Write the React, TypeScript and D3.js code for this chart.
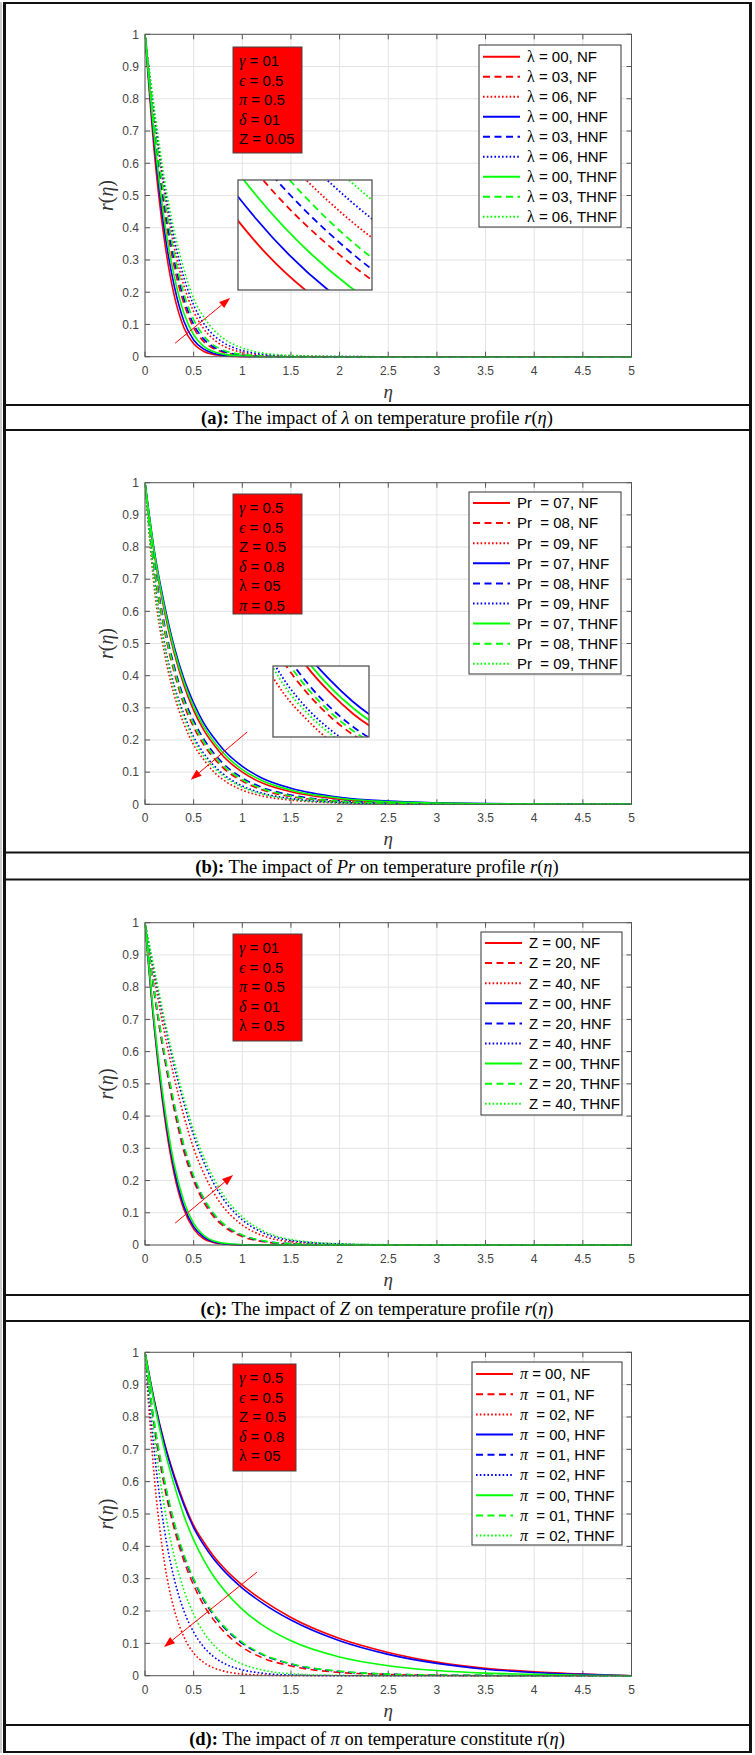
import React from 'react';
import * as d3 from 'd3';

// ---------- shared axes data ----------
const ETA = [0, 0.1, 0.2, 0.3, 0.4, 0.5, 0.6, 0.7, 0.8, 1.0, 1.2, 1.5, 2, 2.5, 3, 3.5, 4, 4.5, 5];
const X_TICKS = [0, 0.5, 1, 1.5, 2, 2.5, 3, 3.5, 4, 4.5, 5];
const Y_TICKS = [0, 0.1, 0.2, 0.3, 0.4, 0.5, 0.6, 0.7, 0.8, 0.9, 1];
const FLUIDS = ['NF', 'HNF', 'THNF'];
const FLUID_COLORS = ['#ff0000', '#0000ff', '#00ff00'];

// ---------- panel (a): lambda ----------
const A_VALUES = ['00', '03', '06'];
const a_nf_0 = [1, 0.62, 0.36, 0.19, 0.09, 0.04, 0.017, 0.007, 0.003, 0, 0, 0, 0, 0, 0, 0, 0, 0, 0];
const a_nf_3 = [1, 0.69, 0.45, 0.28, 0.165, 0.09, 0.048, 0.026, 0.014, 0.004, 0.001, 0, 0, 0, 0, 0, 0, 0, 0];
const a_nf_6 = [1, 0.73, 0.51, 0.34, 0.22, 0.14, 0.088, 0.055, 0.034, 0.013, 0.005, 0.0015, 0, 0, 0, 0, 0, 0, 0];
const a_hnf_0 = [1, 0.65, 0.39, 0.22, 0.11, 0.052, 0.024, 0.011, 0.005, 0.001, 0, 0, 0, 0, 0, 0, 0, 0, 0];
const a_hnf_3 = [1, 0.7, 0.47, 0.3, 0.18, 0.1, 0.056, 0.031, 0.017, 0.005, 0.0015, 0, 0, 0, 0, 0, 0, 0, 0];
const a_hnf_6 = [1, 0.745, 0.53, 0.365, 0.245, 0.16, 0.105, 0.068, 0.045, 0.019, 0.008, 0.0025, 0.0003, 0, 0, 0, 0, 0, 0];
const a_thnf_0 = [1, 0.67, 0.42, 0.25, 0.135, 0.068, 0.033, 0.016, 0.008, 0.002, 0, 0, 0, 0, 0, 0, 0, 0, 0];
const a_thnf_3 = [1, 0.71, 0.49, 0.32, 0.195, 0.115, 0.066, 0.037, 0.021, 0.007, 0.002, 0, 0, 0, 0, 0, 0, 0, 0];
const a_thnf_6 = [1, 0.76, 0.55, 0.39, 0.27, 0.18, 0.125, 0.085, 0.058, 0.027, 0.012, 0.004, 0.001, 0, 0, 0, 0, 0, 0];
const A_BOX = ['γ = 01', 'ϵ = 0.5', 'π = 0.5', 'δ = 01', 'Z = 0.05'];

// ---------- panel (b): Pr ----------
const B_VALUES = ['07', '08', '09'];
const b_nf_7 = [1, 0.77, 0.6, 0.47, 0.37, 0.292, 0.233, 0.188, 0.151, 0.1, 0.067, 0.039, 0.016, 0.007, 0.003, 0.001, 0, 0, 0];
const b_nf_8 = [1, 0.72, 0.54, 0.41, 0.31, 0.24, 0.187, 0.146, 0.114, 0.072, 0.045, 0.024, 0.009, 0.003, 0.001, 0, 0, 0, 0];
const b_nf_9 = [1, 0.66, 0.47, 0.34, 0.25, 0.185, 0.14, 0.103, 0.077, 0.044, 0.026, 0.013, 0.004, 0.001, 0, 0, 0, 0, 0];
const b_hnf_7 = [1, 0.78, 0.62, 0.49, 0.39, 0.315, 0.255, 0.21, 0.172, 0.118, 0.082, 0.05, 0.022, 0.01, 0.005, 0.002, 0.001, 0, 0];
const b_hnf_8 = [1, 0.74, 0.56, 0.43, 0.33, 0.26, 0.205, 0.162, 0.128, 0.082, 0.053, 0.029, 0.011, 0.004, 0.0015, 0.0005, 0, 0, 0];
const b_hnf_9 = [1, 0.69, 0.5, 0.37, 0.28, 0.21, 0.16, 0.123, 0.095, 0.057, 0.035, 0.018, 0.006, 0.002, 0, 0, 0, 0, 0];
const b_thnf_7 = [1, 0.775, 0.61, 0.48, 0.38, 0.303, 0.244, 0.198, 0.161, 0.108, 0.074, 0.044, 0.019, 0.008, 0.004, 0.0015, 0.0005, 0, 0];
const b_thnf_8 = [1, 0.73, 0.55, 0.42, 0.32, 0.25, 0.196, 0.154, 0.121, 0.077, 0.049, 0.026, 0.01, 0.0035, 0.001, 0, 0, 0, 0];
const b_thnf_9 = [1, 0.68, 0.49, 0.36, 0.27, 0.2, 0.152, 0.116, 0.089, 0.053, 0.032, 0.016, 0.005, 0.0015, 0, 0, 0, 0, 0];
const B_BOX = ['γ = 0.5', 'ϵ = 0.5', 'Z = 0.5', 'δ = 0.8', 'λ = 05', 'π = 0.5'];

// ---------- panel (c): Z ----------
const C_VALUES = ['00', '20', '40'];
const c_nf_0 = [1, 0.66, 0.4, 0.22, 0.11, 0.05, 0.02, 0.008, 0.003, 0, 0, 0, 0, 0, 0, 0, 0, 0, 0];
const c_nf_20 = [1, 0.77, 0.58, 0.42, 0.29, 0.2, 0.135, 0.09, 0.06, 0.026, 0.011, 0.003, 0, 0, 0, 0, 0, 0, 0];
const c_nf_40 = [1, 0.82, 0.66, 0.52, 0.4, 0.3, 0.225, 0.165, 0.12, 0.062, 0.03, 0.01, 0.002, 0, 0, 0, 0, 0, 0];
const c_hnf_0 = [1, 0.67, 0.415, 0.235, 0.12, 0.057, 0.025, 0.01, 0.004, 0.0005, 0, 0, 0, 0, 0, 0, 0, 0, 0];
const c_hnf_20 = [1, 0.78, 0.59, 0.435, 0.305, 0.21, 0.145, 0.098, 0.066, 0.03, 0.013, 0.004, 0.0005, 0, 0, 0, 0, 0, 0];
const c_hnf_40 = [1, 0.84, 0.69, 0.555, 0.44, 0.34, 0.26, 0.195, 0.145, 0.078, 0.04, 0.014, 0.003, 0.0005, 0, 0, 0, 0, 0];
const c_thnf_0 = [1, 0.68, 0.43, 0.25, 0.135, 0.067, 0.031, 0.013, 0.006, 0.001, 0, 0, 0, 0, 0, 0, 0, 0, 0];
const c_thnf_20 = [1, 0.78, 0.595, 0.44, 0.31, 0.215, 0.148, 0.1, 0.068, 0.031, 0.014, 0.004, 0.0005, 0, 0, 0, 0, 0, 0];
const c_thnf_40 = [1, 0.85, 0.7, 0.57, 0.455, 0.355, 0.275, 0.21, 0.158, 0.087, 0.046, 0.017, 0.004, 0.001, 0, 0, 0, 0, 0];
const C_BOX = ['γ = 01', 'ϵ = 0.5', 'π = 0.5', 'δ = 01', 'λ = 0.5'];

// ---------- panel (d): pi ----------
const D_VALUES = ['00', '01', '02'];
const d_nf_0 = [1, 0.845, 0.72, 0.62, 0.535, 0.465, 0.415, 0.372, 0.337, 0.28, 0.235, 0.18, 0.115, 0.072, 0.042, 0.023, 0.012, 0.005, 0];
const d_nf_1 = [1, 0.76, 0.585, 0.455, 0.355, 0.28, 0.22, 0.175, 0.14, 0.088, 0.056, 0.03, 0.01, 0.004, 0.001, 0, 0, 0, 0];
const d_nf_2 = [1, 0.6, 0.35, 0.205, 0.12, 0.07, 0.042, 0.025, 0.015, 0.005, 0.002, 0, 0, 0, 0, 0, 0, 0, 0];
const d_hnf_0 = [1, 0.843, 0.716, 0.614, 0.528, 0.458, 0.406, 0.363, 0.328, 0.271, 0.226, 0.172, 0.108, 0.066, 0.038, 0.02, 0.01, 0.004, 0];
const d_hnf_1 = [1, 0.77, 0.6, 0.47, 0.37, 0.295, 0.235, 0.19, 0.153, 0.1, 0.066, 0.036, 0.013, 0.005, 0.002, 0.001, 0, 0, 0];
const d_hnf_2 = [1, 0.68, 0.45, 0.3, 0.2, 0.135, 0.09, 0.06, 0.04, 0.018, 0.008, 0.002, 0, 0, 0, 0, 0, 0, 0];
const d_thnf_0 = [1, 0.835, 0.7, 0.59, 0.495, 0.42, 0.36, 0.31, 0.27, 0.205, 0.158, 0.108, 0.058, 0.031, 0.016, 0.008, 0.004, 0.0015, 0];
const d_thnf_1 = [1, 0.775, 0.605, 0.475, 0.375, 0.3, 0.24, 0.194, 0.157, 0.103, 0.068, 0.037, 0.014, 0.005, 0.002, 0.001, 0, 0, 0];
const d_thnf_2 = [1, 0.73, 0.52, 0.37, 0.265, 0.19, 0.135, 0.097, 0.07, 0.036, 0.018, 0.006, 0.001, 0, 0, 0, 0, 0, 0];
const D_BOX = ['γ = 0.5', 'ϵ = 0.5', 'Z = 0.5', 'δ = 0.8', 'λ = 05'];

// ---------- layout / style ----------
const W = 755;
const H = 1755;
const PLOT_L = 145;
const PLOT_R = 631.5;
const DASHES = [undefined, '7,4.5', '1.6,2.2'];
const SANS = 'Arial, "Liberation Sans", Helvetica, sans-serif';
const SERIF = '"Times New Roman", "Liberation Serif", "DejaVu Serif", serif';

type Part = { t: string; b?: boolean; i?: boolean };

const PANELS = [
  {
    id: 'a',
    plotTop: 34.3, plotBottom: 356.7,
    series: [[a_nf_0, a_nf_3, a_nf_6], [a_hnf_0, a_hnf_3, a_hnf_6], [a_thnf_0, a_thnf_3, a_thnf_6]],
    values: A_VALUES, sym: 'λ', symItalic: false, symSerif: true, gap: [' = ', ' = ', ' = '],
    legend: { x: 479, y: 45, w: 142, h: 182, row0: 11.7, dy: 20 },
    box: { x: 233, y: 47, w: 69, h: 106, lines: A_BOX },
    arrow: { from: [0.31, 0.042], to: [0.875, 0.182] },
    inset: { x: 238, y: 180, w: 134, h: 110, xd: [0.28, 0.425], yd: [0.13, 0.27] },
    caption: [{ t: '(a):', b: true }, { t: ' The impact of ' }, { t: 'λ', i: true }, { t: ' on temperature profile ' }, { t: 'r', i: true }, { t: '(' }, { t: 'η', i: true }, { t: ')' }] as Part[],
    capY: 417.5,
  },
  {
    id: 'b',
    plotTop: 482.7, plotBottom: 804.3,
    series: [[b_nf_7, b_nf_8, b_nf_9], [b_hnf_7, b_hnf_8, b_hnf_9], [b_thnf_7, b_thnf_8, b_thnf_9]],
    values: B_VALUES, sym: 'Pr', symItalic: false, symSerif: false, gap: ['  = ', '  = ', '  = '],
    legend: { x: 469, y: 492, w: 152, h: 182, row0: 11, dy: 20.1 },
    box: { x: 233, y: 494, w: 69, h: 120, lines: B_BOX },
    arrow: { from: [1.05, 0.225], to: [0.47, 0.076] },
    inset: { x: 273, y: 666, w: 96, h: 71, xd: [0.45, 0.87], yd: [0.11, 0.235] },
    caption: [{ t: '(b):', b: true }, { t: ' The impact of ' }, { t: 'Pr', i: true }, { t: ' on temperature profile ' }, { t: 'r', i: true }, { t: '(' }, { t: 'η', i: true }, { t: ')' }] as Part[],
    capY: 866.5,
  },
  {
    id: 'c',
    plotTop: 922.7, plotBottom: 1245,
    series: [[c_nf_0, c_nf_20, c_nf_40], [c_hnf_0, c_hnf_20, c_hnf_40], [c_thnf_0, c_thnf_20, c_thnf_40]],
    values: C_VALUES, sym: 'Z', symItalic: false, symSerif: false, gap: [' = ', ' = ', ' = '],
    legend: { x: 481, y: 932, w: 141, h: 183, row0: 11, dy: 20.1 },
    box: { x: 233, y: 934, w: 69, h: 107, lines: C_BOX },
    arrow: { from: [0.31, 0.068], to: [0.905, 0.217] },
    inset: null,
    caption: [{ t: '(c):', b: true }, { t: ' The impact of ' }, { t: 'Z', i: true }, { t: ' on temperature profile ' }, { t: 'r', i: true }, { t: '(' }, { t: 'η', i: true }, { t: ')' }] as Part[],
    capY: 1308.5,
  },
  {
    id: 'd',
    plotTop: 1352.3, plotBottom: 1675.7,
    series: [[d_nf_0, d_nf_1, d_nf_2], [d_hnf_0, d_hnf_1, d_hnf_2], [d_thnf_0, d_thnf_1, d_thnf_2]],
    values: D_VALUES, sym: 'π', symItalic: true, symSerif: true, gap: [' = ', '  = ', '  = '],
    legend: { x: 472, y: 1362, w: 150, h: 183, row0: 12, dy: 20.2 },
    box: { x: 233, y: 1364, w: 63, h: 107, lines: D_BOX },
    arrow: { from: [1.15, 0.32], to: [0.195, 0.089] },
    inset: null,
    caption: [{ t: '(d):', b: true }, { t: ' The impact of ' }, { t: 'π', i: true }, { t: ' on temperature constitute r(' }, { t: 'η', i: true }, { t: ')' }] as Part[],
    capY: 1738.5,
  },
];

const FRAME_H_LINES = [3, 405, 430, 852.5, 879.5, 1295, 1321, 1725, 1752];

const GREEK = /^[γϵπδλ]/;

function BoxLine({ s, x, y }: { s: string; x: number; y: number }) {
  const first = s[0];
  const rest = s.slice(1);
  const isGreek = GREEK.test(first);
  return (
    <text x={x} y={y} fontSize={15} fontFamily={SANS} fill="#000" style={{ whiteSpace: 'pre' }}>
      {isGreek ? (
        <tspan fontFamily={SERIF} fontStyle={first === 'λ' ? 'normal' : 'italic'} fontSize={16}>{first}</tspan>
      ) : (
        <tspan>{first}</tspan>
      )}
      <tspan>{rest}</tspan>
    </text>
  );
}

function Panel({ p }: { p: (typeof PANELS)[number] }) {
  const x = d3.scaleLinear().domain([0, 5]).range([PLOT_L, PLOT_R]);
  const y = d3.scaleLinear().domain([0, 1]).range([p.plotBottom, p.plotTop]);
  const mkLine = (sx: d3.ScaleLinear<number, number>, sy: d3.ScaleLinear<number, number>) =>
    d3
      .line<number>()
      .x((_, i) => sx(ETA[i]))
      .y((d) => sy(d))
      .curve(d3.curveMonotoneX);
  const line = mkLine(x, y);
  const tl = 5;
  const axisColor = '#555';
  const clipId = `clip-${p.id}`;
  const insetClip = `inset-${p.id}`;
  const mid = (p.plotTop + p.plotBottom) / 2;

  const curves = (ln: d3.Line<number>, lw: number) =>
    FLUIDS.map((f, fi) =>
      p.series[fi].map((s, k) => (
        <path
          key={`${f}-${k}`}
          d={ln(s) || ''}
          fill="none"
          stroke={FLUID_COLORS[fi]}
          strokeWidth={lw}
          strokeDasharray={DASHES[k]}
        />
      ))
    );

  let insetEl = null;
  if (p.inset) {
    const ins = p.inset;
    const xi = d3.scaleLinear().domain(ins.xd).range([ins.x, ins.x + ins.w]);
    const yi = d3.scaleLinear().domain(ins.yd).range([ins.y + ins.h, ins.y]);
    insetEl = (
      <g>
        <clipPath id={insetClip}>
          <rect x={ins.x} y={ins.y} width={ins.w} height={ins.h} />
        </clipPath>
        <rect x={ins.x} y={ins.y} width={ins.w} height={ins.h} fill="#fff" />
        <g clipPath={`url(#${insetClip})`}>{curves(mkLine(xi, yi), 1.8)}</g>
        <rect x={ins.x} y={ins.y} width={ins.w} height={ins.h} fill="none" stroke="#555" strokeWidth={1.3} />
      </g>
    );
  }

  const lg = p.legend;
  const ax1 = x(p.arrow.from[0]);
  const ay1 = y(p.arrow.from[1]);
  const ax2 = x(p.arrow.to[0]);
  const ay2 = y(p.arrow.to[1]);
  const ang = Math.atan2(ay2 - ay1, ax2 - ax1);
  const hl = 11;
  const hw = 4;
  const bx = ax2 - hl * Math.cos(ang);
  const by = ay2 - hl * Math.sin(ang);
  const head = `${ax2},${ay2} ${bx + hw * Math.sin(ang)},${by - hw * Math.cos(ang)} ${bx - hw * Math.sin(ang)},${by + hw * Math.cos(ang)}`;

  return (
    <g>
      <clipPath id={clipId}>
        <rect x={PLOT_L} y={p.plotTop - 2} width={PLOT_R - PLOT_L + 1} height={p.plotBottom - p.plotTop + 3} />
      </clipPath>
      {/* grid */}
      {X_TICKS.map((t) => (
        <line key={`gx${t}`} x1={x(t)} x2={x(t)} y1={p.plotTop} y2={p.plotBottom} stroke="#e3e3e3" strokeWidth={1} />
      ))}
      {Y_TICKS.map((t) => (
        <line key={`gy${t}`} x1={PLOT_L} x2={PLOT_R} y1={y(t)} y2={y(t)} stroke="#e3e3e3" strokeWidth={1} />
      ))}
      {/* ticks */}
      {X_TICKS.map((t) => (
        <g key={`tx${t}`}>
          <line x1={x(t)} x2={x(t)} y1={p.plotBottom} y2={p.plotBottom - tl} stroke={axisColor} />
          <line x1={x(t)} x2={x(t)} y1={p.plotTop} y2={p.plotTop + tl} stroke={axisColor} />
          <text x={x(t)} y={p.plotBottom + 18} textAnchor="middle" fontSize={12} fontFamily={SANS} fill="#444">
            {String(t)}
          </text>
        </g>
      ))}
      {Y_TICKS.map((t) => (
        <g key={`ty${t}`}>
          <line x1={PLOT_L} x2={PLOT_L + tl} y1={y(t)} y2={y(t)} stroke={axisColor} />
          <line x1={PLOT_R} x2={PLOT_R - tl} y1={y(t)} y2={y(t)} stroke={axisColor} />
          <text x={PLOT_L - 6} y={y(t) + 4.3} textAnchor="end" fontSize={12} fontFamily={SANS} fill="#444">
            {String(Math.round(t * 10) / 10)}
          </text>
        </g>
      ))}
      {/* curves */}
      <g clipPath={`url(#${clipId})`}>{curves(line, 1.6)}</g>
      {/* axes box */}
      <rect x={PLOT_L} y={p.plotTop} width={PLOT_R - PLOT_L} height={p.plotBottom - p.plotTop} fill="none" stroke={axisColor} strokeWidth={1} />
      {/* axis labels */}
      <text x={(PLOT_L + PLOT_R) / 2} y={p.plotBottom + 41} textAnchor="middle" fontSize={19} fontFamily={SERIF} fontStyle="italic" fill="#333">
        η
      </text>
      <text transform={`translate(113,${mid}) rotate(-90)`} textAnchor="middle" fontSize={20} fontFamily={SERIF} fill="#333">
        <tspan fontStyle="italic">r</tspan>
        <tspan>(</tspan>
        <tspan fontStyle="italic">η</tspan>
        <tspan>)</tspan>
      </text>
      {/* red parameter box */}
      <rect x={p.box.x} y={p.box.y} width={p.box.w} height={p.box.h} fill="#ff0000" stroke="#444" strokeWidth={1} />
      {p.box.lines.map((s, i) => (
        <BoxLine key={s} s={s} x={p.box.x + 6} y={p.box.y + 19 + i * 19.6} />
      ))}
      {/* inset */}
      {insetEl}
      {/* arrow */}
      <line x1={ax1} y1={ay1} x2={bx} y2={by} stroke="#ff0000" strokeWidth={1} />
      <polygon points={head} fill="#ff0000" />
      {/* legend */}
      <rect x={lg.x} y={lg.y} width={lg.w} height={lg.h} fill="#fff" stroke="#333" strokeWidth={1} />
      {FLUIDS.map((f, fi) =>
        p.values.map((v, k) => {
          const row = fi * 3 + k;
          const ry = lg.y + lg.row0 + row * lg.dy;
          return (
            <g key={`lg${row}`}>
              <line x1={lg.x + 4} x2={lg.x + 41} y1={ry} y2={ry} stroke={FLUID_COLORS[fi]} strokeWidth={2} strokeDasharray={DASHES[k]} />
              <text x={lg.x + 48} y={ry + 5.3} fontSize={15} fontFamily={SANS} fill="#000" style={{ whiteSpace: 'pre' }}>
                <tspan fontFamily={p.symSerif ? SERIF : SANS} fontStyle={p.symItalic ? 'italic' : 'normal'} fontSize={p.symSerif ? 16 : 15}>
                  {p.sym}
                </tspan>
                <tspan>{`${row === 0 ? p.gap[0] : p.gap[1]}${v}, ${f}`}</tspan>
              </text>
            </g>
          );
        })
      )}
      {/* caption */}
      <text x={377} y={p.capY + 6} textAnchor="middle" fontSize={18.5} fontFamily={SERIF} fill="#000" style={{ whiteSpace: 'pre' }}>
        {p.caption.map((c, i) => (
          <tspan key={i} fontWeight={c.b ? 'bold' : 'normal'} fontStyle={c.i ? 'italic' : 'normal'}>
            {c.t}
          </tspan>
        ))}
      </text>
    </g>
  );
}

export default function App() {
  return (
    <svg width={W} height={H} viewBox={`0 0 ${W} ${H}`} style={{ position: 'absolute', left: 0, top: 0, background: '#fff' }}>
      <rect x={0} y={0} width={W} height={H} fill="#fff" />
      {PANELS.map((p) => (
        <Panel key={p.id} p={p} />
      ))}
      {/* frame */}
      <line x1={1} x2={1} y1={2} y2={1753} stroke="#bbb" strokeWidth={1.5} />
      <line x1={4.5} x2={4.5} y1={2} y2={1753} stroke="#111" strokeWidth={3} />
      <line x1={750.5} x2={750.5} y1={2} y2={1753} stroke="#111" strokeWidth={3} />
      {FRAME_H_LINES.map((yy) => (
        <line key={yy} x1={3} x2={752} y1={yy} y2={yy} stroke="#111" strokeWidth={2.2} />
      ))}
    </svg>
  );
}
